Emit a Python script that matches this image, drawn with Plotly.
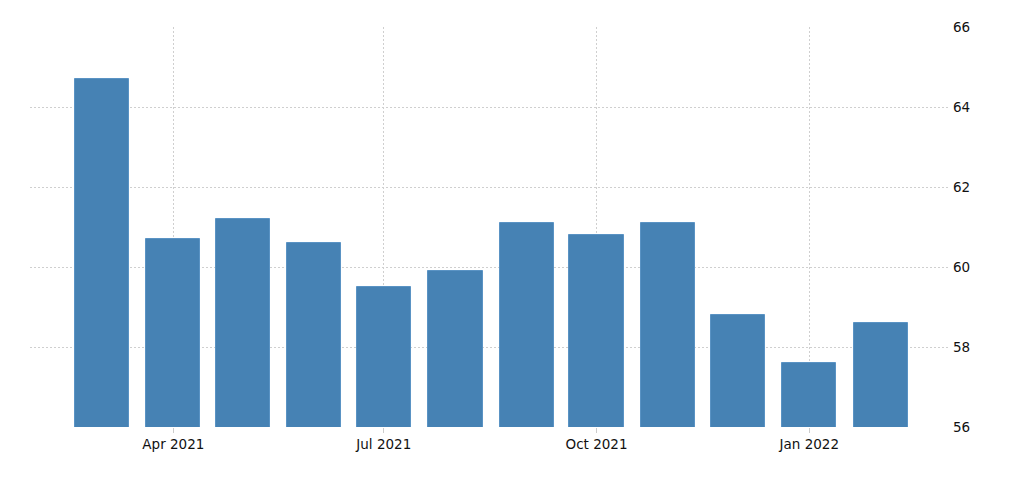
import plotly.graph_objects as go

months = ["2021-03-01", "2021-04-01", "2021-05-01", "2021-06-01", "2021-07-01", "2021-08-01",
          "2021-09-01", "2021-10-01", "2021-11-01", "2021-12-01", "2022-01-01", "2022-02-01"]
values = [64.7, 60.7, 61.2, 60.6, 59.5, 59.9, 61.1, 60.8, 61.1, 58.8, 57.6, 58.6]

tick_dates = ["2021-04-01", "2021-07-01", "2021-10-01", "2022-01-01"]
tick_labels = ["Apr 2021", "Jul 2021", "Oct 2021", "Jan 2022"]
y_ticks = [56, 58, 60, 62, 64, 66]

fig = go.Figure(go.Bar(
    x=months, y=values,
    width=23.4 * 86400000,
    marker=dict(color="#4682B4", line=dict(color="#5a93c4", width=1)),
))

# page body has an 8px default margin, so the figure is offset by 8px
fig.update_layout(
    width=1016, height=469,
    margin=dict(l=22, r=76, t=19, b=50),
    paper_bgcolor="white", plot_bgcolor="white",
    font=dict(family="DejaVu Sans", size=13.5, color="#111111"),
    showlegend=False,
    bargap=0,
)
fig.update_xaxes(
    type="date",
    range=["2021-01-29", "2022-03-02"],
    tickvals=tick_dates, ticktext=tick_labels,
    showgrid=True, gridcolor="#cfcfcf", griddash="2px,2px", gridwidth=1,
    ticks="outside", ticklen=5, tickcolor="#cccccc",
    showline=False, zeroline=False,
)
fig.update_yaxes(
    side="right",
    range=[56, 66],
    tickvals=y_ticks,
    showgrid=True, gridcolor="#cfcfcf", griddash="2px,2px", gridwidth=1,
    showline=False, zeroline=False,
    ticks="", ticklabelstandoff=4,
)

fig.write_html("out.html")
